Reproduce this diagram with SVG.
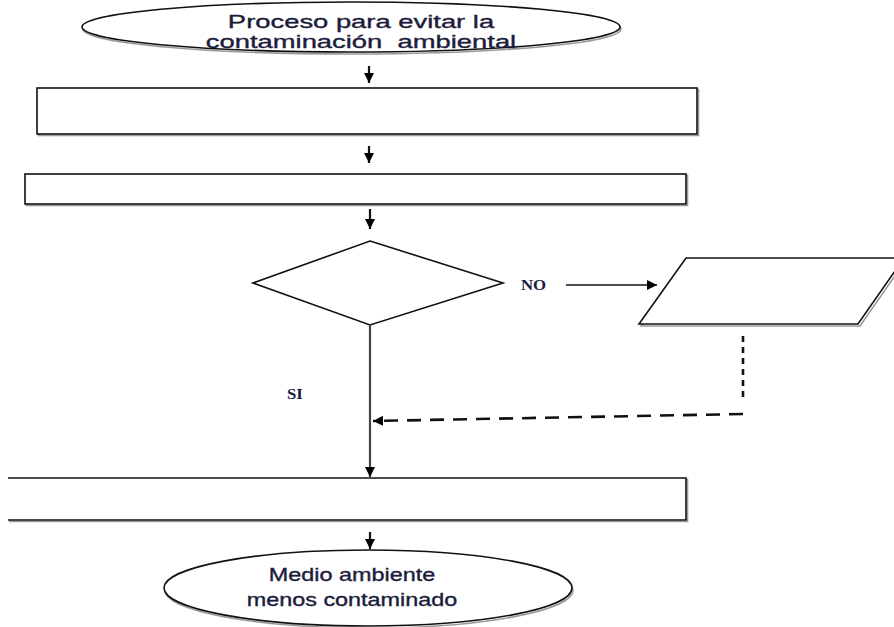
<svg xmlns="http://www.w3.org/2000/svg" width="894" height="627" viewBox="0 0 894 627">
<style>
.shape{fill:#fff;stroke:#111;stroke-width:1.6}
.shadow{fill:none;stroke:#9a9a9a;stroke-width:1.6}
.lbl{font-family:"Liberation Sans",Arial,sans-serif;fill:#1c1c3c;stroke:#1c1c3c;stroke-width:0.35}
.serif{font-family:"Liberation Serif","Times New Roman",serif;fill:#1c1c3c;font-size:14px}
.conn{stroke:#111;stroke-width:2.2;fill:none}
</style>
<defs>
<marker id="ah" viewBox="0 0 10 10" refX="10" refY="5" markerWidth="10" markerHeight="10" markerUnits="userSpaceOnUse" orient="auto">
<path d="M0,0 L10,5 L0,10 z" fill="#000"/>
</marker>
</defs>
<rect width="894" height="627" fill="#fff"/>

<g id="start">
<ellipse class="shadow" cx="352" cy="29" rx="269" ry="25"/>
<ellipse class="shape" cx="351" cy="27" rx="269" ry="25"/>
<g transform="translate(361,28) scale(1.48,1)"><text class="lbl" x="0" y="0" font-size="18.5" text-anchor="middle">Proceso para evitar la</text></g>
<g transform="translate(361,48) scale(1.48,1)"><text class="lbl" x="0" y="0" font-size="18.5" text-anchor="middle" xml:space="preserve">contaminación  ambiental</text></g>
</g>

<g id="step1">
<rect class="shadow" x="38.5" y="89.5" width="660" height="46"/>
<rect class="shape" x="37" y="88" width="660" height="46"/>
</g>

<g id="step2">
<rect class="shadow" x="26.5" y="175.5" width="661" height="30"/>
<rect class="shape" x="25" y="174" width="661" height="30"/>
</g>

<g id="decision">
<polygon class="shape" points="370,241 503,283 370,325 253,283"/>
</g>

<g id="io">
<polygon class="shadow" points="688,260 906,260 860,326 641,326"/>
<polygon class="shape" points="686,258 904,258 858,324 639,324"/>
</g>

<g id="step3">
<path class="shadow" d="M9,479.5 H687.5 V521.5 H9"/>
<path class="shape" d="M8,478 H686 V520 H8"/>
</g>

<g id="end">
<ellipse class="shadow" cx="369" cy="590" rx="204" ry="38"/>
<ellipse class="shape" cx="368" cy="588" rx="204" ry="38"/>
<g transform="translate(352,581) scale(1.3,1)"><text class="lbl" x="0" y="0" font-size="18" text-anchor="middle">Medio ambiente</text></g>
<g transform="translate(352,606) scale(1.3,1)"><text class="lbl" x="0" y="0" font-size="18" text-anchor="middle">menos contaminado</text></g>
</g>

<g id="connectors">
<line class="conn" x1="369" y1="66" x2="369" y2="83" marker-end="url(#ah)"/>
<line class="conn" x1="369" y1="146" x2="369" y2="163" marker-end="url(#ah)"/>
<line class="conn" x1="370" y1="209" x2="370" y2="229" marker-end="url(#ah)"/>
<line x1="566" y1="285" x2="657" y2="285" stroke="#111" stroke-width="1.6" marker-end="url(#ah)"/>
<line x1="370" y1="325" x2="370" y2="477" stroke="#444" stroke-width="2.2" marker-end="url(#ah)"/>
<line x1="743" y1="336" x2="743" y2="402" stroke="#111" stroke-width="2.6" stroke-dasharray="6 5"/>
<line x1="743" y1="414" x2="373" y2="421" stroke="#111" stroke-width="2.6" stroke-dasharray="14 9" marker-end="url(#ah)"/>
<line class="conn" x1="370" y1="532" x2="370" y2="549" marker-end="url(#ah)"/>
<g transform="translate(521,290) scale(1.2,1)"><text class="serif" x="0" y="0" font-weight="bold">NO</text></g>
<g transform="translate(287,399) scale(1.2,1)"><text class="serif" x="0" y="0" font-weight="bold">SI</text></g>
</g>
</svg>
